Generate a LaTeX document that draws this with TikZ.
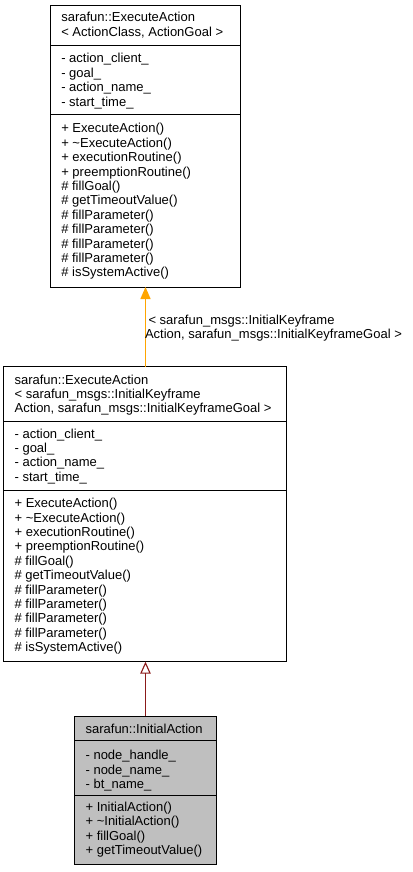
\documentclass[tikz,border=0pt]{standalone}
\usepackage{fontspec}
\setmainfont{Liberation Sans}
\usetikzlibrary{arrows.meta}
\definecolor{edgeorange}{HTML}{FFA500}
\definecolor{edgered}{HTML}{8B1A1A}
\definecolor{boxgrey}{HTML}{BFBFBF}
\newcommand{\fs}{\rule{0pt}{10pt}}
\begin{document}
\begin{tikzpicture}[x=1pt,y=-1pt,
  txt/.style={anchor=north west, inner sep=0pt, outer sep=0pt, align=left,
    font=\fontsize{13}{14.4}\selectfont},
  umlbox/.style={draw=black, line width=1pt, anchor=north west, inner sep=0pt,
    outer sep=0pt, rectangle},
  sepline/.style={draw=black, line width=1pt},
  tmplarrow/.style={color=edgeorange, line width=1.4pt,
    -{Triangle[length=12pt,width=10pt]}},
  inharrow/.style={draw=edgered, line width=1.1pt,
    -{Triangle[open,length=12pt,width=10.5pt]}}]
\useasboundingbox (0,0) rectangle (412,872);

% ---------- top box ----------
\node[umlbox, minimum width=189.3pt, minimum height=281pt, fill=white] (topbox) at (50.7,6) {};
\draw[sepline] (topbox.west |- 0,45.7) -- (topbox.east |- 0,45.7);
\draw[sepline] (topbox.west |- 0,115) -- (topbox.east |- 0,115);
\node[txt] (toptitle) at (61.3,12) {\fs sarafun::ExecuteAction\\\textless\ ActionClass, ActionGoal \textgreater};
\node[txt] (topattr) at (61.3,53) {\fs - action\_client\_\\- goal\_\\- action\_name\_\\- start\_time\_};
\node[txt] (topmeth) at (61.3,122.8) {\fs + ExecuteAction()\\+ \textasciitilde ExecuteAction()\\+ executionRoutine()\\+ preemptionRoutine()\\\# fillGoal()\\\# getTimeoutValue()\\\# fillParameter()\\\# fillParameter()\\\# fillParameter()\\\# fillParameter()\\\# isSystemActive()};

% ---------- middle box ----------
\node[umlbox, minimum width=283.4pt, minimum height=295pt, fill=white] (midbox) at (3.3,366.7) {};
\draw[sepline] (midbox.west |- 0,421.7) -- (midbox.east |- 0,421.7);
\draw[sepline] (midbox.west |- 0,490.5) -- (midbox.east |- 0,490.5);
\node[txt] (midtitle) at (14.6,374) {\fs sarafun::ExecuteAction\\\textless\ sarafun\_msgs::InitialKeyframe\\Action, sarafun\_msgs::InitialKeyframeGoal \textgreater};
\node[txt] (midattr) at (14.6,428) {\fs - action\_client\_\\- goal\_\\- action\_name\_\\- start\_time\_};
\node[txt] (midmeth) at (14.6,497.6) {\fs + ExecuteAction()\\+ \textasciitilde ExecuteAction()\\+ executionRoutine()\\+ preemptionRoutine()\\\# fillGoal()\\\# getTimeoutValue()\\\# fillParameter()\\\# fillParameter()\\\# fillParameter()\\\# fillParameter()\\\# isSystemActive()};

% ---------- bottom box ----------
\node[umlbox, minimum width=142.7pt, minimum height=148pt, fill=boxgrey] (botbox) at (74,716) {};
\draw[sepline] (botbox.west |- 0,740) -- (botbox.east |- 0,740);
\draw[sepline] (botbox.west |- 0,795) -- (botbox.east |- 0,795);
\node[txt] (bottitle) at (85.6,723) {\fs sarafun::InitialAction};
\node[txt] (botattr) at (85.6,749.7) {\fs - node\_handle\_\\- node\_name\_\\- bt\_name\_};
\node[txt] (botmeth) at (85.6,801.4) {\fs + InitialAction()\\+ \textasciitilde InitialAction()\\+ fillGoal()\\+ getTimeoutValue()};

% ---------- connectors ----------
\draw[tmplarrow] ([xshift=0.5pt]midbox.north) -- ([xshift=0.5pt]midbox.north |- topbox.south);
\node[txt] (tmpllabel) at (145,314) {\fs\hspace*{3.5pt}\textless\ sarafun\_msgs::InitialKeyframe\\Action, sarafun\_msgs::InitialKeyframeGoal \textgreater};
\draw[inharrow] ([xshift=0.5pt]botbox.north -| midbox.south) -- ([xshift=0.5pt]midbox.south);
\end{tikzpicture}
\end{document}
